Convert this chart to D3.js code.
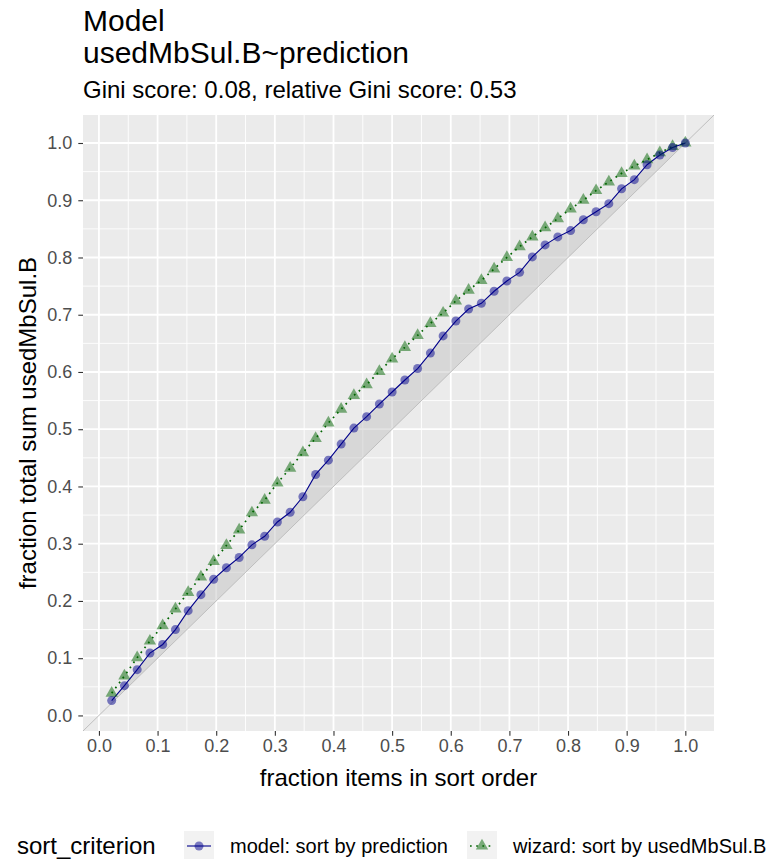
<!DOCTYPE html>
<html>
<head>
<meta charset="utf-8">
<script src="https://cdn.jsdelivr.net/npm/d3@7"></script>
<style>
  body { margin: 0; background: #fff; }
  svg { display: block; font-family: "Liberation Sans", Arial, sans-serif; }
</style>
</head>
<body>
<div id="chart"></div>
<script>
// gain curve values, 46 items
const fracItems = d3.range(1, 47).map(i => i / 46)

const modelFrac = [
  0.026, 0.052, 0.080, 0.109, 0.124, 0.150, 0.183, 0.211, 0.238, 0.258,
  0.276, 0.298, 0.313, 0.338, 0.355, 0.382, 0.421, 0.446, 0.474, 0.502,
  0.522, 0.544, 0.565, 0.586, 0.606, 0.633, 0.663, 0.689, 0.710, 0.720,
  0.741, 0.759, 0.774, 0.801, 0.822, 0.836, 0.847, 0.866, 0.880, 0.894,
  0.920, 0.936, 0.962, 0.979, 0.992, 1.000
]

const wizardFrac = [
  0.039, 0.069, 0.101, 0.130, 0.157, 0.186, 0.215, 0.242, 0.269, 0.297,
  0.324, 0.354, 0.376, 0.406, 0.432, 0.459, 0.484, 0.511, 0.535, 0.559,
  0.578, 0.601, 0.623, 0.643, 0.664, 0.685, 0.703, 0.724, 0.743, 0.760,
  0.780, 0.800, 0.819, 0.836, 0.852, 0.868, 0.885, 0.900, 0.917, 0.932,
  0.947, 0.960, 0.971, 0.983, 0.994, 1.000
]

const majorTicks = [0, 0.1, 0.2, 0.3, 0.4, 0.5, 0.6, 0.7, 0.8, 0.9, 1.0]
const minorTicks = [0.05, 0.15, 0.25, 0.35, 0.45, 0.55, 0.65, 0.75, 0.85, 0.95]

const seriesNames = ["model: sort by prediction", "wizard: sort by usedMbSul.B"]

const W = 773, H = 859
const panel = { left: 83, right: 714, top: 115, bottom: 731 }

const svg = d3.select("#chart").append("svg")
  .attr("width", W).attr("height", H)

// ggplot style 5% expansion on the data range
const expand = ([a, b]) => [a - (b - a) * 0.05, b + (b - a) * 0.05]

const x = d3.scaleLinear()
  .domain(expand(d3.extent(fracItems)))
  .range([panel.left, panel.right])

const yExt = d3.extent([...modelFrac, ...wizardFrac, ...fracItems])
const y = d3.scaleLinear()
  .domain(expand(yExt))
  .range([panel.bottom, panel.top])

// Panel background + grid
svg.append("rect")
  .attr("x", panel.left).attr("y", panel.top)
  .attr("width", panel.right - panel.left)
  .attr("height", panel.bottom - panel.top)
  .attr("fill", "#EBEBEB")

const grid = svg.append("g")
grid.selectAll(".vminor").data(minorTicks).enter().append("line")
  .attr("x1", d => x(d)).attr("x2", d => x(d))
  .attr("y1", panel.top).attr("y2", panel.bottom)
  .attr("stroke", "#fff").attr("stroke-width", 0.9)
grid.selectAll(".hminor").data(minorTicks).enter().append("line")
  .attr("y1", d => y(d)).attr("y2", d => y(d))
  .attr("x1", panel.left).attr("x2", panel.right)
  .attr("stroke", "#fff").attr("stroke-width", 0.9)
grid.selectAll(".vmajor").data(majorTicks).enter().append("line")
  .attr("x1", d => x(d)).attr("x2", d => x(d))
  .attr("y1", panel.top).attr("y2", panel.bottom)
  .attr("stroke", "#fff").attr("stroke-width", 1.8)
grid.selectAll(".hmajor").data(majorTicks).enter().append("line")
  .attr("y1", d => y(d)).attr("y2", d => y(d))
  .attr("x1", panel.left).attr("x2", panel.right)
  .attr("stroke", "#fff").attr("stroke-width", 1.8)

const plot = svg.append("g")
plot.append("clipPath").attr("id", "clip")
  .append("rect")
  .attr("x", panel.left).attr("y", panel.top)
  .attr("width", panel.right - panel.left)
  .attr("height", panel.bottom - panel.top)
const inner = plot.append("g").attr("clip-path", "url(#clip)")

// ribbon between diagonal and model curve
const ribbon = d3.area()
  .x((d, i) => x(fracItems[i]))
  .y0((d, i) => y(fracItems[i]))
  .y1(d => y(d))
inner.append("path")
  .datum(modelFrac)
  .attr("d", ribbon)
  .attr("fill", "#bebebe")
  .attr("opacity", 0.45)

// y = x reference line across the whole panel
const xd = x.domain()
inner.append("line")
  .attr("x1", x(xd[0])).attr("y1", y(xd[0]))
  .attr("x2", x(xd[1])).attr("y2", y(xd[1]))
  .attr("stroke", "#bebebe").attr("stroke-width", 1)

const line = d3.line().x((d, i) => x(fracItems[i])).y(d => y(d))

// wizard curve
inner.append("path")
  .datum(wizardFrac)
  .attr("d", line)
  .attr("fill", "none")
  .attr("stroke", "#006400")
  .attr("stroke-width", 1.7)
  .attr("stroke-dasharray", "1.7,4.5")

// model curve
inner.append("path")
  .datum(modelFrac)
  .attr("d", line)
  .attr("fill", "none")
  .attr("stroke", "#00008B")
  .attr("stroke-width", 1.1)

const tri = d3.symbol().type(d3.symbolTriangle).size(66)
inner.selectAll(".wiz").data(wizardFrac).enter().append("path")
  .attr("transform", (d, i) => `translate(${x(fracItems[i])},${y(d)})`)
  .attr("d", tri)
  .attr("fill", "#006400").attr("fill-opacity", 0.5)

inner.selectAll(".mod").data(modelFrac).enter().append("circle")
  .attr("cx", (d, i) => x(fracItems[i]))
  .attr("cy", d => y(d))
  .attr("r", 4.5)
  .attr("fill", "#00008B").attr("fill-opacity", 0.5)

// Axes
const xAxis = svg.append("g")
  .attr("transform", `translate(0,${panel.bottom})`)
  .call(d3.axisBottom(x).tickValues(majorTicks).tickFormat(d3.format(".1f")).tickSizeOuter(0).tickSize(4.7).tickPadding(4))
const yAxis = svg.append("g")
  .attr("transform", `translate(${panel.left},0)`)
  .call(d3.axisLeft(y).tickValues(majorTicks).tickFormat(d3.format(".1f")).tickSizeOuter(0).tickSize(4.7).tickPadding(6))

for (const ax of [xAxis, yAxis]) {
  ax.select(".domain").remove()
  ax.selectAll(".tick line").attr("stroke", "#333333").attr("stroke-width", 1.1)
  ax.selectAll(".tick text")
    .attr("fill", "#4D4D4D")
    .style("font-size", "18px")
    .style("font-family", "'Liberation Sans', Arial, sans-serif")
}

// Axis titles
svg.append("text")
  .attr("x", (panel.left + panel.right) / 2).attr("y", 786)
  .attr("text-anchor", "middle")
  .style("font-size", "24px").attr("fill", "#000")
  .text("fraction items in sort order")

svg.append("text")
  .attr("transform", `translate(36,${(panel.top + panel.bottom) / 2}) rotate(-90)`)
  .attr("text-anchor", "middle")
  .style("font-size", "24px").attr("fill", "#000")
  .text("fraction total sum usedMbSul.B")

// Titles
svg.append("text").attr("x", 83).attr("y", 31)
  .style("font-size", "30px").attr("fill", "#000").text("Model")
svg.append("text").attr("x", 83).attr("y", 63)
  .style("font-size", "30px").attr("fill", "#000").text("usedMbSul.B~prediction")
svg.append("text").attr("x", 83).attr("y", 98)
  .style("font-size", "24px").attr("fill", "#000").text("Gini score: 0.08, relative Gini score: 0.53")

// Legend
const legY = 846
const legend = svg.append("g")
legend.append("text").attr("x", 17).attr("y", legY + 8)
  .style("font-size", "24px").attr("fill", "#000").text("sort_criterion")

const keys = [
  { x: 184, labelX: 230, name: seriesNames[0], kind: "model" },
  { x: 467, labelX: 513, name: seriesNames[1], kind: "wizard" }
]
keys.forEach(k => {
  const g = legend.append("g")
  g.append("rect").attr("x", k.x).attr("y", legY - 15)
    .attr("width", 30).attr("height", 30).attr("fill", "#F2F2F2")
  const cx = k.x + 15
  if (k.kind === "model") {
    g.append("line").attr("x1", k.x + 3).attr("x2", k.x + 27)
      .attr("y1", legY).attr("y2", legY)
      .attr("stroke", "#00008B").attr("stroke-width", 1.1)
    g.append("circle").attr("cx", cx).attr("cy", legY).attr("r", 4.5)
      .attr("fill", "#00008B").attr("fill-opacity", 0.5)
  } else {
    g.append("line").attr("x1", k.x + 3).attr("x2", k.x + 27)
      .attr("y1", legY).attr("y2", legY)
      .attr("stroke", "#006400").attr("stroke-width", 1.7)
      .attr("stroke-dasharray", "1.7,4.5")
    g.append("path").attr("transform", `translate(${cx},${legY})`)
      .attr("d", tri).attr("fill", "#006400").attr("fill-opacity", 0.5)
  }
  g.append("text").attr("x", k.labelX).attr("y", legY + 7)
    .style("font-size", "20px").attr("fill", "#000").text(k.name)
})
</script>
</body>
</html>
